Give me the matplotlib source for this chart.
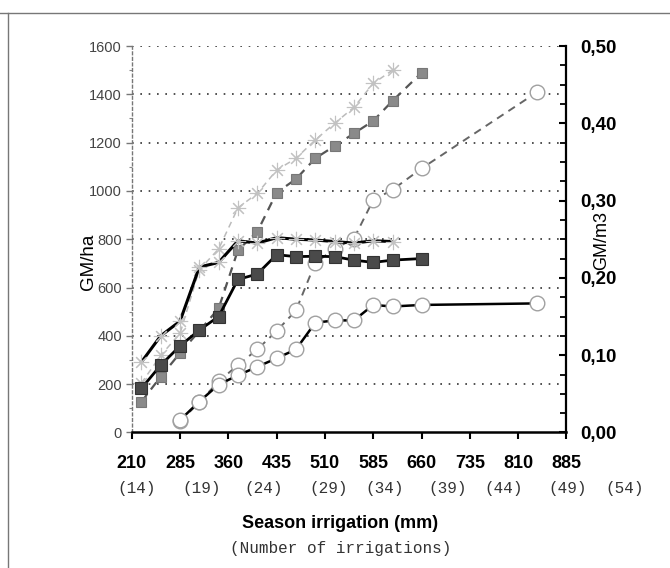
import numpy as np
import matplotlib
matplotlib.use("Agg")
import matplotlib.pyplot as plt
from matplotlib.ticker import FuncFormatter, MultipleLocator
from matplotlib.lines import Line2D

plt.rcParams['font.family'] = ['Liberation Sans', 'DejaVu Sans']

# season irrigation (mm)
irr_sq = [225, 255, 285, 315, 345, 375, 405, 435, 465, 495, 525, 555, 585, 615, 660]
irr_st = [225, 255, 285, 315, 345, 375, 405, 435, 465, 495, 525, 555, 585, 615]
irr_ci = [285, 315, 345, 375, 405, 435, 465, 495, 525, 555, 585, 615, 660, 840]

# GM/ha (left axis)
gmha_sq = [127, 231, 329, 420, 514, 755, 831, 993, 1049, 1135, 1186, 1238, 1290, 1373, 1489]
gmha_st = [204, 319, 410, 674, 760, 930, 990, 1086, 1135, 1211, 1280, 1346, 1445, 1500]
gmha_ci = [46, 125, 212, 279, 344, 420, 505, 702, 760, 803, 962, 1005, 1093, 1410]

# GM/m3 (right axis)
gmm3_sq = [0.057, 0.087, 0.112, 0.1325, 0.150, 0.198, 0.205, 0.230, 0.2275, 0.228,
           0.2275, 0.223, 0.220, 0.223, 0.225]
gmm3_st = [0.091, 0.125, 0.144, 0.214, 0.220, 0.248, 0.245, 0.252, 0.250, 0.249,
           0.247, 0.245, 0.248, 0.247]
gmm3_ci = [0.016, 0.040, 0.062, 0.074, 0.085, 0.096, 0.1075, 0.142, 0.145, 0.145,
           0.165, 0.163, 0.165, 0.167]

x_ticks = list(range(210, 886, 75))
n_irrig = ['(14)', '(19)', '(24)', '(29)', '(34)', '(39)', '(44)', '(49)', '(54)']
n_irrig_pos = [217, 318, 415, 515, 602, 701, 788, 887, 976]

fig = plt.figure(figsize=(6.7, 5.68), dpi=100)
ax = fig.add_axes([0.1966, 0.2386, 0.8454 - 0.1966, 0.919 - 0.2386])
ax2 = ax.twinx()

# frame lines of the page
fig.add_artist(Line2D([0, 1], [1 - 13 / 568, 1 - 13 / 568], color='#777777', lw=1.0))
fig.add_artist(Line2D([8 / 670, 8 / 670], [0, 1 - 13 / 568], color='#777777', lw=1.0))

ax.set_xlim(210, 885)
ax.set_ylim(0, 1600)
ax2.set_ylim(0, 0.5)

for yv in range(200, 1601, 200):
    ax.axhline(yv, color='#333333', lw=1.2, ls=(0, (1, 4)), zorder=0)

# GM/ha lines (dashed)
ax.plot(irr_st, gmha_st, color='#bbbbbb', lw=1.1, dashes=(4, 3), zorder=2)
ax.plot(irr_sq, gmha_sq, color='#555555', lw=1.6, dashes=(4, 3), zorder=2)
ax.plot(irr_ci, gmha_ci, color='#666666', lw=1.4, dashes=(4, 3), zorder=2)

ax.plot(irr_st, gmha_st, ls='none', marker=(8, 2, 0), ms=11, mew=0.8,
        mec='#c2c2c2', zorder=3)
ax.plot(irr_sq, gmha_sq, ls='none', marker='s', ms=7.5, mfc='#8a8a8a',
        mec='#777777', mew=0.8, zorder=3)
ax.plot(irr_ci, gmha_ci, ls='none', marker='o', ms=10.5, mfc='white',
        mec='#a0a0a0', mew=1.0, zorder=4)

# GM/m3 lines (solid)
ax2.plot(irr_st, gmm3_st, color='black', lw=2.2, zorder=2)
ax2.plot(irr_st, gmm3_st, ls='none', marker=(8, 2, 0), ms=11, mew=0.8,
         mec='#c2c2c2', zorder=3)
ax2.plot(irr_sq, gmm3_sq, color='black', lw=2.0, marker='s', ms=8,
         mfc='#4a4a4a', mec='#333333', mew=0.8, zorder=3)
ax2.plot(irr_ci, gmm3_ci, color='black', lw=1.8, zorder=2)
ax2.plot(irr_ci, gmm3_ci, ls='none', marker='o', ms=10.5, mfc='white',
         mec='#a0a0a0', mew=1.0, zorder=4)

# spines
for a in (ax, ax2):
    a.spines['top'].set_visible(False)
ax.spines['left'].set_color('#777777')
ax.spines['left'].set_linestyle((0, (2, 2)))
ax.spines['left'].set_linewidth(1.0)
ax.spines['right'].set_visible(False)
ax.spines['bottom'].set_linewidth(1.8)
ax2.spines['left'].set_visible(False)
ax2.spines['bottom'].set_visible(False)
ax2.spines['right'].set_linewidth(1.6)

ax.set_xticks(x_ticks)
ax.set_xticklabels([str(v) for v in x_ticks], fontsize=13, fontweight='bold')
ax.tick_params(axis='x', direction='out', length=5, width=1.5, pad=11)

ax.set_yticks(range(0, 1601, 200))
ax.yaxis.set_minor_locator(MultipleLocator(100))
ax.tick_params(axis='y', which='major', direction='out', length=4, width=1.0,
               color='#777777', labelcolor='#444444', labelsize=10.5, pad=3)
ax.tick_params(axis='y', which='minor', direction='out', length=2, width=0.8,
               color='#888888')

ax2.set_yticks(np.arange(0, 0.51, 0.1))
ax2.yaxis.set_minor_locator(MultipleLocator(0.025))
ax2.yaxis.set_major_formatter(FuncFormatter(lambda v, p: f"{v:.2f}".replace('.', ',')))
ax2.tick_params(axis='y', which='major', direction='in', length=5, width=1.5,
                labelsize=13.5, pad=10)
for lab in ax2.get_yticklabels():
    lab.set_fontweight('bold')
ax2.tick_params(axis='y', which='minor', direction='in', length=4, width=1.3)

fig.text(88 / 670, 1 - 262 / 568, 'GM/ha', rotation=90, fontsize=13.5,
         ha='center', va='center')
fig.text(602 / 670, 1 - 240 / 568, 'GM/m3', rotation=90, fontsize=13,
         ha='center', va='center')

for lab, xp in zip(n_irrig, n_irrig_pos):
    ax.text(xp, -(489 - 432.5) / (432.5 - 46), lab, transform=ax.get_xaxis_transform(),
            ha='center', va='center', family='Liberation Mono', fontsize=11.5,
            color='#333333', clip_on=False)

fig.text(340 / 670, 1 - 523 / 568, 'Season irrigation (mm)', fontsize=13,
         fontweight='bold', ha='center', va='center')
fig.text(341 / 670, 1 - 548 / 568, '(Number of irrigations)', fontsize=11.5,
         family='Liberation Mono', color='#333333', ha='center', va='center')

fig.savefig('out.png', dpi=100)
